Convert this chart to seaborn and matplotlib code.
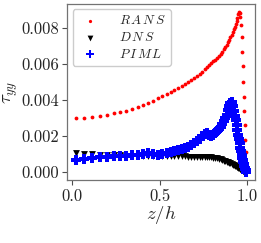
import numpy as np
import pandas as pd
import matplotlib
matplotlib.use("Agg")
import matplotlib.pyplot as plt
import seaborn as sns

# --- Data (wall-normal profile of tau_yy) ---
z_h = [0.020, 0.067, 0.112, 0.156, 0.198, 0.237, 0.275, 0.310, 0.344, 0.376,
       0.407, 0.436, 0.464, 0.491, 0.517, 0.541, 0.564, 0.586, 0.607, 0.627,
       0.646, 0.664, 0.682, 0.699, 0.715, 0.730, 0.745, 0.759, 0.772, 0.785,
       0.797, 0.809, 0.820, 0.831, 0.841, 0.851, 0.860, 0.869, 0.877, 0.885,
       0.893, 0.900, 0.907, 0.914, 0.920, 0.926, 0.932, 0.937, 0.942, 0.947,
       0.952, 0.956, 0.960, 0.964, 0.968, 0.972, 0.975, 0.978, 0.981, 0.984,
       0.987, 0.990, 0.992, 0.994, 0.996, 0.998, 0.999]

rans = [0.00303, 0.00303, 0.00308, 0.00314, 0.00319, 0.00327, 0.00334, 0.00342, 0.00351, 0.00360,
        0.00371, 0.00383, 0.00396, 0.00410, 0.00421, 0.00434, 0.00446, 0.00455, 0.00467, 0.00478,
        0.00488, 0.00499, 0.00511, 0.00523, 0.00533, 0.00546, 0.00558, 0.00572, 0.00583, 0.00597,
        0.00606, 0.00616, 0.00626, 0.00637, 0.00648, 0.00659, 0.00670, 0.00683, 0.00695, 0.00708,
        0.00721, 0.00735, 0.00749, 0.00764, 0.00779, 0.00794, 0.00810, 0.00825, 0.00842, 0.00860,
        0.00880, 0.00890, 0.00884, 0.00865, 0.00820, 0.00750, 0.00670, 0.00590, 0.00500, 0.00420,
        0.00340, 0.00260, 0.00180, 0.00110, 0.00050, 0.00020, 0.00005]

dns = [0.00104, 0.00100, 0.00098, 0.00096, 0.00095, 0.00094, 0.00093, 0.00092, 0.00091, 0.00090,
       0.00090, 0.00089, 0.00089, 0.00088, 0.00088, 0.00088, 0.00087, 0.00087, 0.00087, 0.00087,
       0.00087, 0.00086, 0.00086, 0.00086, 0.00086, 0.00086, 0.00085, 0.00085, 0.00084, 0.00083,
       0.00082, 0.00080, 0.00078, 0.00076, 0.00073, 0.00070, 0.00067, 0.00064, 0.00061, 0.00058,
       0.00055, 0.00051, 0.00048, 0.00045, 0.00042, 0.00039, 0.00036, 0.00033, 0.00030, 0.00027,
       0.00024, 0.00021, 0.00019, 0.00016, 0.00014, 0.00011, 0.00009, 0.00007, 0.00005, 0.00004,
       0.00003, 0.00002, 0.00001, 0.00001, 0.00000, 0.00000, 0.00000]

piml = [0.00068, 0.00073, 0.00079, 0.00082, 0.00085, 0.00087, 0.00089, 0.00091, 0.00094, 0.00097,
        0.00100, 0.00104, 0.00102, 0.00097, 0.00102, 0.00107, 0.00112, 0.00117, 0.00122, 0.00128,
        0.00134, 0.00141, 0.00150, 0.00160, 0.00172, 0.00186, 0.00200, 0.00211, 0.00215, 0.00207,
        0.00203, 0.00207, 0.00215, 0.00226, 0.00238, 0.00252, 0.00266, 0.00283, 0.00300, 0.00320,
        0.00343, 0.00365, 0.00382, 0.00388, 0.00370, 0.00340, 0.00310, 0.00288, 0.00262, 0.00235,
        0.00205, 0.00185, 0.00160, 0.00135, 0.00115, 0.00095, 0.00080, 0.00066, 0.00054, 0.00043,
        0.00034, 0.00025, 0.00018, 0.00012, 0.00007, 0.00004, 0.00002]

df = pd.DataFrame({"z": z_h, "RANS": rans, "DNS": dns, "PIML": piml})

# --- Style ---
sns.set_style("ticks")
plt.rcParams["font.family"] = "serif"
plt.rcParams["font.serif"] = ["cmr10", "DejaVu Serif"]
plt.rcParams["mathtext.fontset"] = "cm"
plt.rcParams["axes.formatter.use_mathtext"] = True
plt.rcParams["axes.unicode_minus"] = False

fig = plt.figure(figsize=(2.61, 2.43), dpi=100)
ax = fig.add_axes([0.258, 0.259, 0.719, 0.724])

sns.scatterplot(data=df, x="z", y="RANS", ax=ax, color="red", marker=".",
                s=30, linewidth=0, label=r"$R\,A\,N\,S$")
sns.scatterplot(data=df, x="z", y="DNS", ax=ax, color="black", marker="v",
                s=24, linewidth=0, label=r"$D\,N\,S$")
sns.scatterplot(data=df, x="z", y="PIML", ax=ax, color="blue", marker="P",
                s=42, linewidth=0, label=r"$P\,I\,M\,L$")

ax.set_xticks([0.0, 0.5, 1.0])
ax.set_yticks([0.000, 0.002, 0.004, 0.006, 0.008])
ax.set_xticklabels(["0.0", "0.5", "1.0"])
ax.set_yticklabels(["0.000", "0.002", "0.004", "0.006", "0.008"])
ax.tick_params(labelsize=12, length=3.5, width=0.8, color="0.3", pad=2.5)
for sp in ax.spines.values():
    sp.set_color("0.45")
    sp.set_linewidth(0.9)

ax.set_xlabel(r"$z/h$", fontsize=13.5, labelpad=0)
ax.set_ylabel(r"$\tau_{yy}$", fontsize=13.5, labelpad=1)

ax.legend(loc="upper left", fontsize=9.5, markerscale=0.85, handletextpad=1.2,
          borderpad=0.35, labelspacing=0.3, borderaxespad=0.4,
          framealpha=1, edgecolor="0.8")

fig.savefig("out.png", dpi=100)
